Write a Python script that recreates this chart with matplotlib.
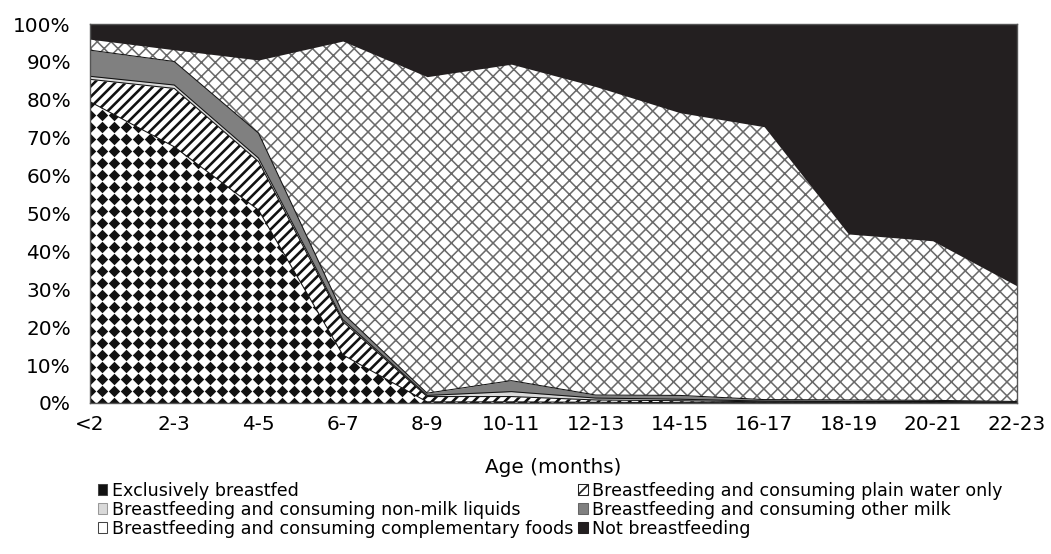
import numpy as np
import matplotlib
matplotlib.use('Agg')
import matplotlib.pyplot as plt
from matplotlib.patches import Patch
from matplotlib.ticker import PercentFormatter

ages = ['<2', '2-3', '4-5', '6-7', '8-9', '10-11', '12-13', '14-15', '16-17', '18-19', '20-21', '22-23']
exclusive = [79.5, 67.6, 50.9, 12.7, 0.3, 0.3, 0.2, 0.1, 0.1, 0.1, 0.1, 0.0]
water = [5.9, 15.4, 12.8, 8.8, 1.4, 1.4, 0.6, 0.5, 0.2, 0.2, 0.2, 0.1]
non_milk = [0.8, 0.9, 0.9, 0.5, 0.3, 1.3, 0.5, 0.4, 0.2, 0.1, 0.1, 0.1]
other_milk = [6.9, 6.2, 6.6, 1.7, 0.6, 2.9, 0.8, 1.0, 0.4, 0.4, 0.3, 0.2]
complementary = [2.9, 3.1, 19.3, 71.8, 83.5, 83.5, 81.4, 74.6, 72.0, 43.8, 42.1, 30.5]
not_bf = [4.0, 6.8, 9.5, 4.5, 13.9, 10.6, 16.5, 23.4, 27.1, 55.4, 57.2, 69.1]

labels = ['Exclusively breastfed',
          'Breastfeeding and consuming plain water only',
          'Breastfeeding and consuming non-milk liquids',
          'Breastfeeding and consuming other milk',
          'Breastfeeding and consuming complementary foods',
          'Not breastfeeding']

# face colour, hatch colour, hatch, hatch linewidth
styles = [('white', 'white', None, 1.0),
          ('white', '#111111', '////', 1.5),
          ('#d9d9d9', '#d9d9d9', None, 1.0),
          ('#808080', '#808080', None, 1.0),
          ('white', '#6a6a6a', 'xxx', 0.9),
          ('#231f20', '#231f20', None, 1.0)]

plt.rcParams['font.family'] = ['DejaVu Sans']

W, H = 1051, 554
fig = plt.figure(figsize=(W / 125, H / 125), dpi=125)
ax = fig.add_axes([90 / W, 1 - 403 / H, 927 / W, 379 / H])

x = np.arange(len(ages))
series = [exclusive, water, non_milk, other_milk, complementary, not_bf]
tops = np.cumsum(np.array(series, dtype=float), axis=0)
bottoms = np.vstack([np.zeros(len(ages)), tops[:-1]])

colls = []
for i, (fc, hc, hatch, hlw) in enumerate(styles):
    with plt.rc_context({'hatch.linewidth': hlw}):
        coll = ax.fill_between(x, bottoms[i], tops[i], facecolor=fc, edgecolor=hc,
                               hatch=hatch, linewidth=0)
    if hasattr(coll, 'set_hatch_linewidth'):
        coll.set_hatch_linewidth(hlw)
    colls.append(coll)

# diamond texture for the exclusively breastfed layer, clipped to its area
gx, gy = np.meshgrid(np.arange(0, 1.01, 12 / 927), np.arange(0, 1.01, 12 / 379))
dots = ax.scatter(gx.ravel(), gy.ravel(), marker='D', s=22, color='#111111',
                  linewidths=0, transform=ax.transAxes, zorder=1.5)
dots.set_clip_path(colls[0].get_paths()[0], colls[0].get_transform())

# thin outlines between the lower layers
for i in range(4):
    ax.plot(x, tops[i], color='#111111', lw=0.6, zorder=2)

ax.set_xlim(0, len(ages) - 1)
ax.set_ylim(0, 100)
ax.set_xticks(x)
ax.set_xticklabels(ages)
ax.set_yticks(np.arange(0, 101, 10))
ax.yaxis.set_major_formatter(PercentFormatter(decimals=0))
ax.tick_params(length=0, labelsize=11.5)
ax.tick_params(axis='x', pad=7)
ax.tick_params(axis='y', pad=11)
for s in ax.spines.values():
    s.set_color('#555555')
    s.set_linewidth(0.8)
    s.set_zorder(3)
ax.set_xlabel('Age (months)', fontsize=11.5, labelpad=13.5)

# legend swatches
with plt.rc_context({'hatch.linewidth': 1.5}):
    proxies = [Patch(facecolor='#111111', edgecolor='#444444', linewidth=0.6),
               Patch(facecolor='white', edgecolor='#222222', hatch='////', linewidth=0.6),
               Patch(facecolor='#d9d9d9', edgecolor='#999999', linewidth=0.6),
               Patch(facecolor='#808080', edgecolor='#666666', linewidth=0.6),
               Patch(facecolor='white', edgecolor='#444444', linewidth=0.6),
               Patch(facecolor='#231f20', edgecolor='#231f20', linewidth=0.6)]

order = [0, 2, 4, 1, 3, 5]
fig.legend([proxies[i] for i in order], [labels[i] for i in order],
           ncol=2, loc='upper left', bbox_to_anchor=(89 / W, 1 - 473 / H),
           frameon=False, fontsize=10.1, handlelength=0.55, handleheight=0.55,
           handletextpad=0.25, labelspacing=0.05, columnspacing=0.3, borderpad=0)

fig.savefig('out.png', dpi=125)
